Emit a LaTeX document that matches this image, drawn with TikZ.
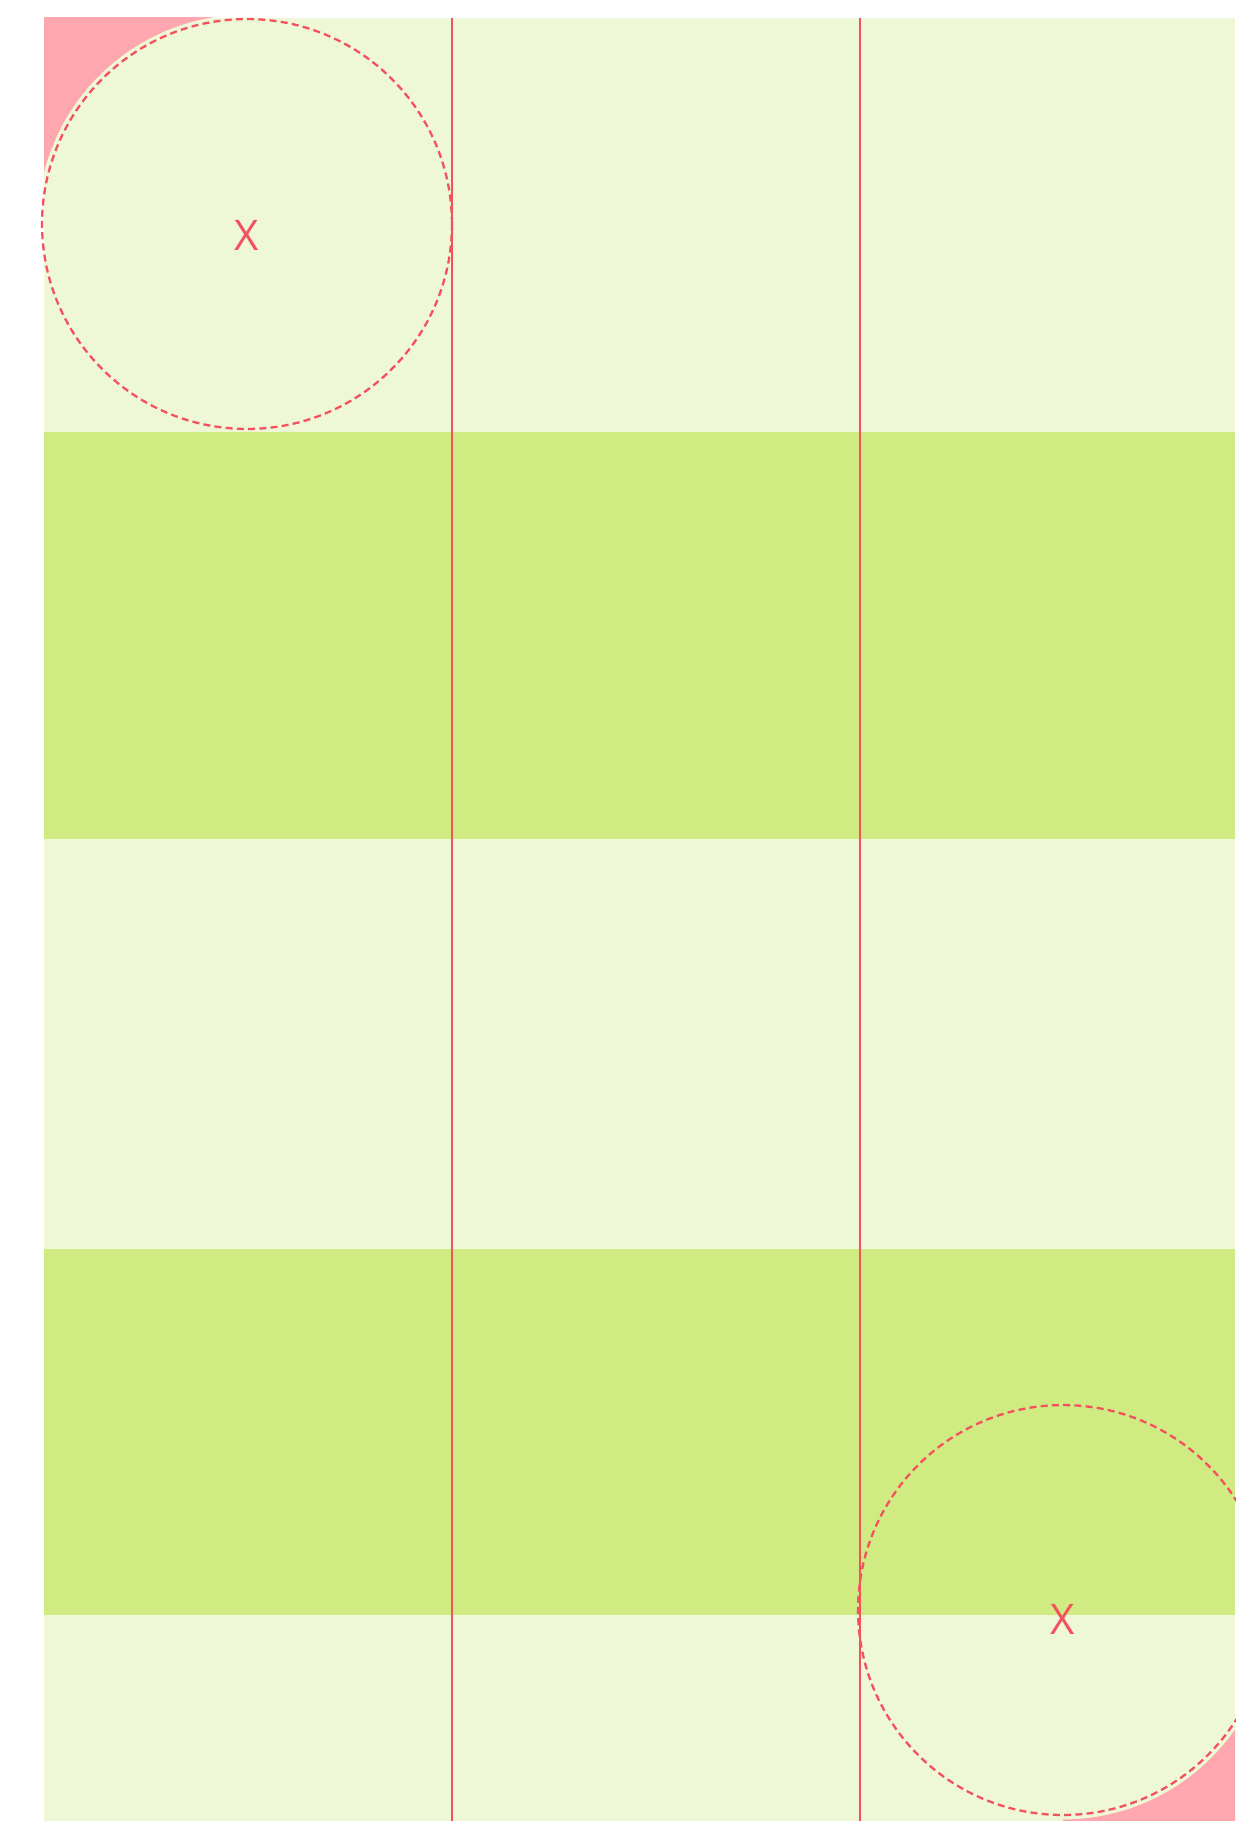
\documentclass[tikz,border=0pt]{standalone}
\usepackage{fontspec}
\setmainfont{Open Sans}
\usepackage{xcolor}
\usepackage{tikz}
\usetikzlibrary{positioning}

\definecolor{palegreen}{HTML}{EEF7D6}
\definecolor{limegreen}{HTML}{CFEB82}
\definecolor{markred}{HTML}{F5505E}
\definecolor{cornerpink}{HTML}{FFA7AE}

\begin{document}
\begin{tikzpicture}[x=0.02cm, y=-0.02cm,
  gridline/.style={draw=markred, line width=1.5pt},
  reachcircle/.style={circle, draw=markred, line width=1.3pt,
    dash pattern=on 4pt off 2.4pt, minimum size=8.2cm, inner sep=0pt},
  hitlabel/.style={text=markred, font=\fontsize{24}{28}\selectfont, inner sep=0pt}]
\fill[white] (0,0) rectangle (1235,1821);
\useasboundingbox (0,0) rectangle (1235,1821);
% row bands
\fill[palegreen] (44,18) rectangle (1235,432);
\fill[limegreen] (44,432) rectangle (1235,839);
\fill[palegreen] (44,839) rectangle (1235,1249);
\fill[limegreen] (44,1249) rectangle (1235,1615);
\fill[palegreen] (44,1615) rectangle (1235,1821);
% pink corners outside the circles
\begin{scope}
  \clip (44,18) rectangle (247,224);
  \fill[cornerpink, even odd rule] (0,0) rectangle (500,500)
    (247,224) circle[radius=4.19cm];
\end{scope}
\begin{scope}
  \clip (1063,1610) rectangle (1235,1821);
  \fill[cornerpink, even odd rule] (800,1300) rectangle (1300,1900)
    (1063,1610) circle[radius=4.19cm];
\end{scope}
% column lines
\foreach \xv in {452,860}
  \draw[gridline] (\xv,18) -- (\xv,1821);
% circles with their marks
\node[reachcircle] (topcircle) at (247,224) {};
\node[reachcircle] (lowcircle) at (1063,1610) {};
\node[hitlabel] (topmark) at (247,235) {X};
\node[hitlabel] (lowmark) at (1063,1619) {X};
\end{tikzpicture}
\end{document}
